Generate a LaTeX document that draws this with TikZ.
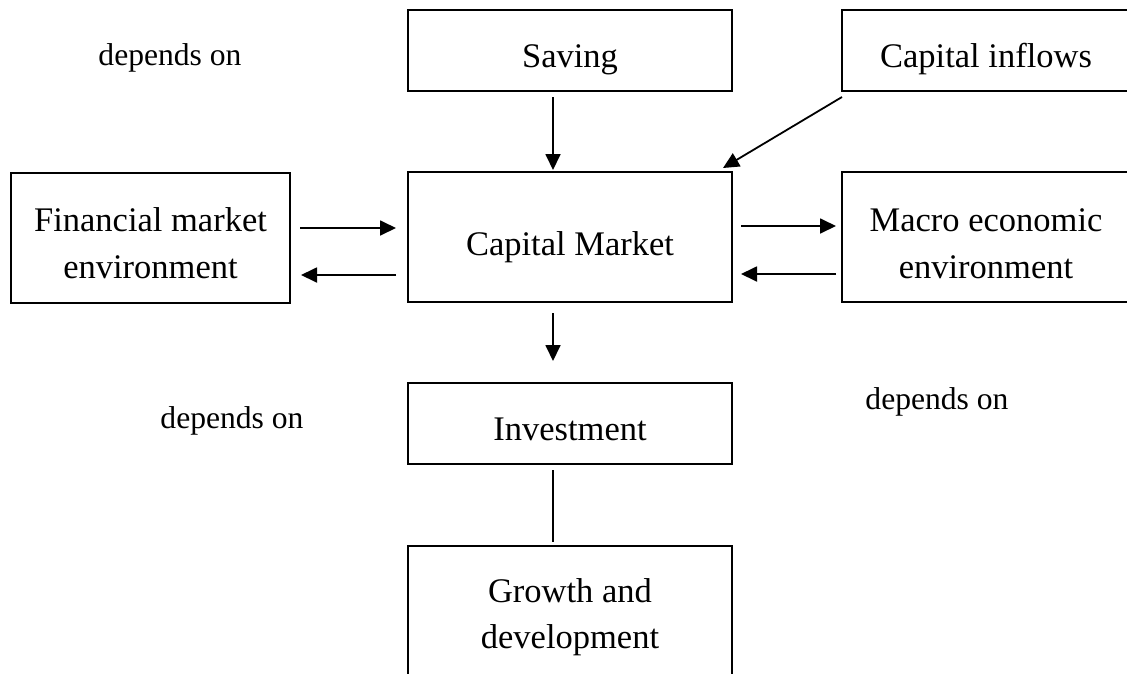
\documentclass[tikz,border=0pt]{standalone}
\usepackage{fontspec}
\setmainfont{Liberation Serif}
\usetikzlibrary{arrows.meta}
\begin{document}
\begin{tikzpicture}[x=1pt,y=-1pt,
  box/.style={draw, rectangle, line width=2.3pt, inner sep=0pt, outer sep=0pt},
  txt/.style={anchor=base, inner sep=0pt, font=\fontsize{34.5}{40}\selectfont},
  dep/.style={anchor=base, inner sep=0pt, font=\fontsize{31.6}{38}\selectfont},
  arr/.style={-{Triangle[length=16pt,width=15pt]}, line width=1.8pt},
  link/.style={line width=1.8pt}]
\useasboundingbox (0,0) rectangle (1127,673);
\clip (0,0) rectangle (1127,673);

% boxes
\node[box, minimum width=324pt, minimum height=81pt]  (sav) at (570,50.5) {};
\node[box, minimum width=288pt, minimum height=81pt]  (inf) at (986,50.5) {};
\node[box, minimum width=279pt, minimum height=130pt] (fin) at (150.5,238) {};
\node[box, minimum width=324pt, minimum height=130pt] (cm)  at (570,237) {};
\node[box, minimum width=288pt, minimum height=130pt] (mac) at (986,237) {};
\node[box, minimum width=324pt, minimum height=81pt]  (inv) at (570,423.5) {};
\node[box, minimum width=324pt, minimum height=154pt] (gro) at (570,623) {};

% box texts
\node[txt] (savT)  at (570,67)  {Saving};
\node[txt] (infT)  at (986,67)  {Capital inflows};
\node[txt] (finT1) at (150.5,231) {Financial market};
\node[txt] (finT2) at (150.5,278) {environment};
\node[txt] (cmT)   at (570,255) {Capital Market};
\node[txt] (macT1) at (986,231) {Macro economic};
\node[txt] (macT2) at (986,278) {environment};
\node[txt] (invT)  at (570,440) {Investment};
\node[txt] (groT1) at (570,602) {Growth and};
\node[txt] (groT2) at (570,648) {development};

% free labels
\node[dep] (dep1) at (170,65)  {depends on};
\node[dep] (dep2) at (232,428) {depends on};
\node[dep] (dep3) at (937,409) {depends on};

% connectors
\draw[arr] ([xshift=-17pt,yshift=-6pt]sav.south) -- ([xshift=-17pt,yshift=2pt]cm.north);
\draw[arr] ([yshift=-6pt]inf.south west) -- ([xshift=-9pt,yshift=4pt]cm.north east);
\draw[arr] ([xshift=10pt,yshift=10pt]fin.east) -- ([xshift=-12pt,yshift=9pt]cm.west);
\draw[arr] ([xshift=-12pt,yshift=-38pt]cm.west) -- ([xshift=11pt,yshift=-37pt]fin.east);
\draw[arr] ([xshift=9pt,yshift=11pt]cm.east) -- ([xshift=-6pt,yshift=11pt]mac.west);
\draw[arr] ([xshift=-6pt,yshift=-37pt]mac.west) -- ([xshift=9pt,yshift=-37pt]cm.east);
\draw[arr] ([xshift=-17pt,yshift=-11pt]cm.south) -- ([xshift=-17pt,yshift=22pt]inv.north);
\draw[link] ([xshift=-17pt,yshift=-6pt]inv.south) -- ([xshift=-17pt,yshift=4pt]gro.north);
\end{tikzpicture}
\end{document}
